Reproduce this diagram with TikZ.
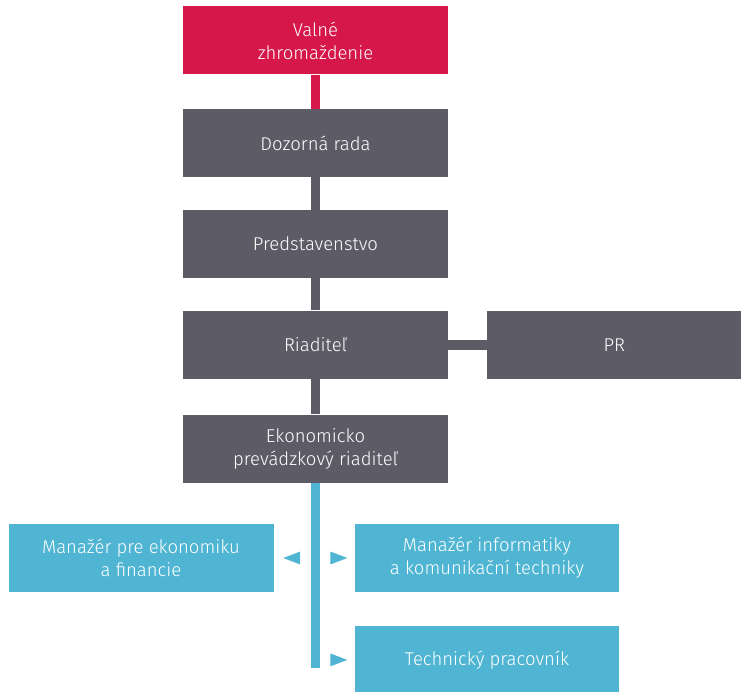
\documentclass[tikz,border=0pt]{standalone}
\usepackage{fontspec}
\setmainfont{Fira Sans Light}
\usetikzlibrary{positioning,shapes.geometric}

\definecolor{vzred}{HTML}{D5174A}
\definecolor{vzgray}{HTML}{5D5C66}
\definecolor{vzblue}{HTML}{4FB5D3}

\begin{document}
\begin{tikzpicture}[x=1pt,y=1pt,
  unit/.style={rectangle, minimum width=265pt, minimum height=68pt, inner sep=0pt,
    align=center, text=white, font=\fontsize{18.5}{23}\selectfont},
  board/.style={unit, fill=vzred},
  office/.style={unit, fill=vzgray},
  dept/.style={unit, fill=vzblue},
  link/.style={line width=9pt},
  pointer/.style={isosceles triangle, isosceles triangle stretches, fill=vzblue,
    minimum width=13pt, minimum height=17pt, inner sep=0pt}]

  \useasboundingbox (0,0) rectangle (741,-692);

  % Nodes

  \node[board] (valne) at (315.5,-40.5) {Valné\\zhromaždenie};
  \node[office,below=34pt of valne] (dozor) {Dozorná rada};
  \node[office,below=32.5pt of dozor] (predst) {Predstavenstvo};
  \node[office,below=32.5pt of predst] (riad) {Riaditeľ};
  \node[office,minimum width=254pt,right=39pt of riad] (pr) {PR};
  \node[office,below=35.5pt of riad] (ekon) {Ekonomicko\\prevádzkový riaditeľ};

  \node[dept,below=41pt of ekon,xshift=-174.5pt] (mgr_fin) {Manažér pre ekonomiku\\a financie};
  \node[dept,minimum width=264pt,below=41pt of ekon,xshift=171.5pt] (mgr_it) {Manažér informatiky\\a komunikační techniky};
  \node[dept,minimum width=264pt,below=33.5pt of mgr_it] (tech) {Technický pracovník};

  \coordinate[below=185pt of ekon.south] (blue_end);

  % Pointers

  \node[pointer,shape border rotate=180,right=9pt of mgr_fin] (ptr_fin) {};
  \node[pointer,left=7pt of mgr_it] (ptr_it) {};
  \node[pointer,left=7pt of tech] (ptr_tech) {};

  % Links

  \draw[link,vzred] (valne) -- (dozor); %
  \draw[link,vzgray] (dozor) -- (predst); %
  \draw[link,vzgray] (predst) -- (riad); %
  \draw[link,vzgray] (riad) -- (ekon); %
  \draw[link,vzgray,line width=10pt] (riad) -- (pr); %
  \draw[link,vzblue] (ekon.south) -- (blue_end); %

\end{tikzpicture}
\end{document}
